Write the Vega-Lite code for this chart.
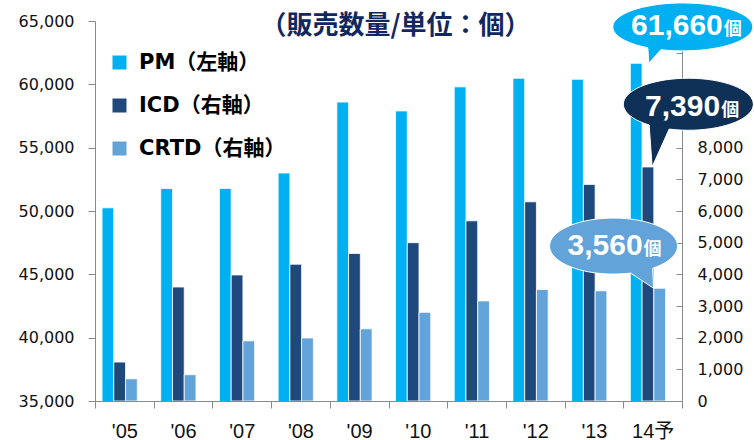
{
  "$schema": "https://vega.github.io/schema/vega-lite/v6.json",
  "width": 587,
  "height": 380,
  "autosize": {"type": "none"},
  "padding": {"left": 95, "top": 21, "right": 72, "bottom": 39},
  "background": "white",
  "config": {
    "view": {"stroke": null},
    "axis": {"grid": false, "domainColor": "#8a8a8a", "tickColor": "#8a8a8a", "labelColor": "#111111", "title": null}
  },
  "title": {
    "text": "（販売数量/単位：個）",
    "font": "Noto Sans CJK JP",
    "fontSize": 26,
    "fontWeight": "bold",
    "color": "#12275E",
    "anchor": "middle",
    "frame": "group",
    "offset": 0,
    "dy": 38,
    "dx": 7
  },
  "data": {
    "values": [
      {"year": "'05", "series": "PM", "value": 50250},
      {"year": "'05", "series": "ICD", "value": 1230},
      {"year": "'05", "series": "CRTD", "value": 700},
      {"year": "'06", "series": "PM", "value": 51780},
      {"year": "'06", "series": "ICD", "value": 3600},
      {"year": "'06", "series": "CRTD", "value": 830},
      {"year": "'07", "series": "PM", "value": 51780},
      {"year": "'07", "series": "ICD", "value": 3980},
      {"year": "'07", "series": "CRTD", "value": 1900},
      {"year": "'08", "series": "PM", "value": 53000},
      {"year": "'08", "series": "ICD", "value": 4320},
      {"year": "'08", "series": "CRTD", "value": 1990},
      {"year": "'09", "series": "PM", "value": 58600},
      {"year": "'09", "series": "ICD", "value": 4660},
      {"year": "'09", "series": "CRTD", "value": 2280},
      {"year": "'10", "series": "PM", "value": 57900},
      {"year": "'10", "series": "ICD", "value": 5000},
      {"year": "'10", "series": "CRTD", "value": 2800},
      {"year": "'11", "series": "PM", "value": 59800},
      {"year": "'11", "series": "ICD", "value": 5690},
      {"year": "'11", "series": "CRTD", "value": 3160},
      {"year": "'12", "series": "PM", "value": 60480},
      {"year": "'12", "series": "ICD", "value": 6290},
      {"year": "'12", "series": "CRTD", "value": 3520},
      {"year": "'13", "series": "PM", "value": 60400},
      {"year": "'13", "series": "ICD", "value": 6840},
      {"year": "'13", "series": "CRTD", "value": 3480},
      {"year": "14予", "series": "PM", "value": 61660},
      {"year": "14予", "series": "ICD", "value": 7390},
      {"year": "14予", "series": "CRTD", "value": 3560}
    ]
  },
  "encoding": {
    "x": {
      "field": "year",
      "type": "nominal",
      "sort": null,
      "scale": {"paddingInner": 0, "paddingOuter": 0},
      "axis": {
        "orient": "bottom",
        "labelAngle": 0,
        "tickBand": "extent",
        "tickSize": 7,
        "labelPadding": 13,
        "labelFontSize": 20,
        "labelFont": "Liberation Sans, Noto Sans CJK JP",
        "labelColor": "#111111"
      }
    },
    "xOffset": {
      "field": "series",
      "type": "nominal",
      "scale": {"domain": ["PM", "ICD", "CRTD"], "paddingInner": 0, "paddingOuter": 1.1, "align": 0.3}
    }
  },
  "layer": [
    {
      "transform": [{"filter": "datum.series === 'PM'"}],
      "encoding": {
        "y": {
          "field": "value",
          "type": "quantitative",
          "scale": {"domain": [35000, 65000], "nice": false, "zero": false},
          "axis": {
            "orient": "left",
            "values": [35000, 40000, 45000, 50000, 55000, 60000, 65000],
            "format": ",.0f",
            "tickSize": 7,
            "labelPadding": 14,
            "labelFontSize": 16,
            "labelFont": "DejaVu Sans"
          }
        }
      },
      "layer": [
        {
          "mark": {"type": "bar", "stroke": "#ffffff", "strokeWidth": 0.8, "clip": true},
          "encoding": {
            "color": {
              "field": "series",
              "type": "nominal",
              "scale": {"domain": ["PM", "ICD", "CRTD"], "range": ["#00B0F0", "#1F497D", "#62A3D9"]},
              "legend": {
                "orient": "none",
                "legendX": 14,
                "legendY": 31,
                "title": null,
                "padding": 0,
                "symbolType": "square",
                "symbolSize": 196,
                "symbolStrokeWidth": 0,
                "labelFontSize": 21,
                "labelFontWeight": "bold",
                "labelFont": "DejaVu Sans, Noto Sans CJK JP",
                "labelColor": "#000000",
                "labelLimit": 300,
                "rowPadding": 21,
                "labelOffset": 9,
                "labelExpr": "datum.label === 'PM' ? 'PM（左軸）' : datum.label + '（右軸）'"
              }
            }
          }
        },
        {
          "transform": [{"filter": "datum.year === '14予'"}],
          "mark": {
            "type": "point",
            "shape": "M 11.6 -15.6 L 12.6 0 L 24.6 -13.6 A 70 24 0 1 0 11.6 -15.6 Z",
            "size": 4,
            "filled": true,
            "fill": "#00B0F0",
            "stroke": "#ffffff",
            "strokeWidth": 1,
            "opacity": 1
          }
        },
        {
          "transform": [{"filter": "datum.year === '14予'"}],
          "mark": {"type": "text", "align": "right", "baseline": "alphabetic", "dx": 86.6, "dy": -28.4, "fontSize": 30, "fontWeight": "bold", "font": "Liberation Sans", "fill": "#ffffff"},
          "encoding": {"text": {"field": "value", "type": "quantitative", "format": ","}}
        },
        {
          "transform": [{"filter": "datum.year === '14予'"}],
          "mark": {"type": "text", "align": "left", "baseline": "alphabetic", "dx": 87.6, "dy": -28.4, "fontSize": 18, "fontWeight": "bold", "font": "Noto Sans CJK JP", "fill": "#ffffff"},
          "encoding": {"text": {"value": "個"}}
        }
      ]
    },
    {
      "transform": [{"filter": "datum.series !== 'PM'"}],
      "encoding": {
        "y": {
          "field": "value",
          "type": "quantitative",
          "scale": {"domain": [0, 12000], "nice": false},
          "axis": {
            "orient": "right",
            "values": [0, 1000, 2000, 3000, 4000, 5000, 6000, 7000, 8000, 9000, 10000, 11000, 12000],
            "labelExpr": "datum.value <= 8000 ? format(datum.value, ',') : ''",
            "tickSize": -6,
            "labelPadding": 21,
            "labelFontSize": 16,
            "labelFont": "DejaVu Sans"
          }
        }
      },
      "layer": [
        {
          "mark": {"type": "bar", "stroke": "#ffffff", "strokeWidth": 0.8, "clip": true},
          "encoding": {
            "color": {"field": "series", "type": "nominal", "scale": {"domain": ["PM", "ICD", "CRTD"], "range": ["#00B0F0", "#1F497D", "#62A3D9"]}}
          }
        },
        {
          "transform": [{"filter": "datum.year === '14予' && datum.series === 'ICD'"}],
          "mark": {
            "type": "point",
            "shape": "M 1.2 -42 L 4.2 0 L 21.2 -37.9 A 65 26 0 1 0 1.2 -42 Z",
            "size": 4,
            "filled": true,
            "fill": "#0E2F56",
            "stroke": "#ffffff",
            "strokeWidth": 1,
            "opacity": 1
          }
        },
        {
          "transform": [{"filter": "datum.year === '14予' && datum.series === 'ICD'"}],
          "mark": {"type": "text", "align": "right", "baseline": "alphabetic", "dx": 72.2, "dy": -50.8, "fontSize": 30, "fontWeight": "bold", "font": "Liberation Sans", "fill": "#ffffff"},
          "encoding": {"text": {"field": "value", "type": "quantitative", "format": ","}}
        },
        {
          "transform": [{"filter": "datum.year === '14予' && datum.series === 'ICD'"}],
          "mark": {"type": "text", "align": "left", "baseline": "alphabetic", "dx": 73.2, "dy": -50.8, "fontSize": 18, "fontWeight": "bold", "font": "Noto Sans CJK JP", "fill": "#ffffff"},
          "encoding": {"text": {"value": "個"}}
        },
        {
          "transform": [{"filter": "datum.year === '14予' && datum.series === 'CRTD'"}],
          "mark": {
            "type": "point",
            "shape": "M -29.1 -15.2 L -6.1 0 L -7.1 -20 A 64 28 0 1 0 -29.1 -15.2 Z",
            "size": 4,
            "filled": true,
            "fill": "#62A3D9",
            "stroke": "#ffffff",
            "strokeWidth": 1,
            "opacity": 1
          }
        },
        {
          "transform": [{"filter": "datum.year === '14予' && datum.series === 'CRTD'"}],
          "mark": {"type": "text", "align": "right", "baseline": "alphabetic", "dx": -17.1, "dy": -33.2, "fontSize": 30, "fontWeight": "bold", "font": "Liberation Sans", "fill": "#ffffff"},
          "encoding": {"text": {"field": "value", "type": "quantitative", "format": ","}}
        },
        {
          "transform": [{"filter": "datum.year === '14予' && datum.series === 'CRTD'"}],
          "mark": {"type": "text", "align": "left", "baseline": "alphabetic", "dx": -16.1, "dy": -33.2, "fontSize": 18, "fontWeight": "bold", "font": "Noto Sans CJK JP", "fill": "#ffffff"},
          "encoding": {"text": {"value": "個"}}
        }
      ]
    }
  ],
  "resolve": {"scale": {"y": "independent"}}
}
